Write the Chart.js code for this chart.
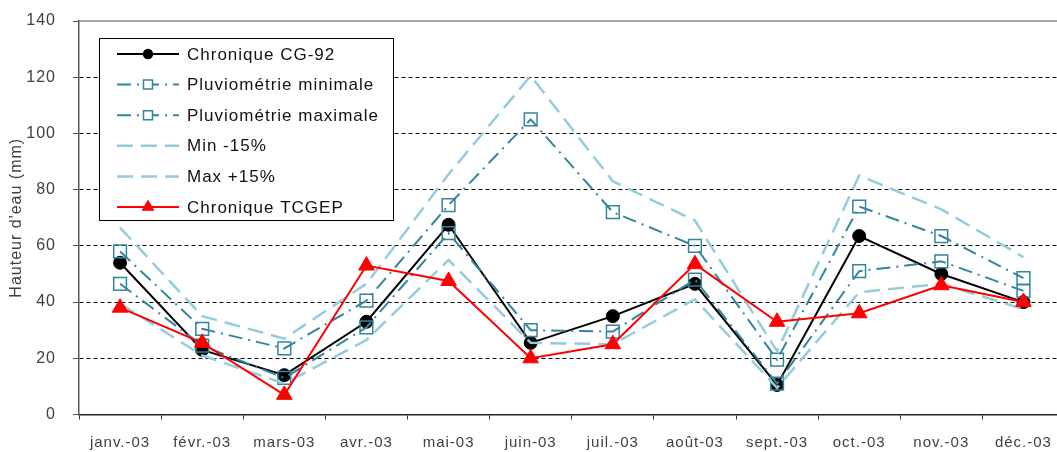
<!DOCTYPE html>
<html lang="fr">
<head>
<meta charset="utf-8">
<title>Hauteur d'eau - 2003</title>
<script src="https://cdn.jsdelivr.net/npm/chart.js@4.4.1/dist/chart.umd.min.js"></script>
<style>
  html, body { margin: 0; padding: 0; background: #fff; overflow: hidden; }
  #wrap { position: absolute; left: 0; top: 0; width: 1075px; height: 452px; }
</style>
</head>
<body>
<div id="wrap"><canvas id="chart" width="1075" height="452"></canvas></div>
<script>
// Data (mm)
const months = ['janv.-03', 'févr.-03', 'mars-03', 'avr.-03', 'mai-03', 'juin-03',
                'juil.-03', 'août-03', 'sept.-03', 'oct.-03', 'nov.-03', 'déc.-03'];
const cg92       = [54, 23, 14, 33, 67.5, 25.5, 35, 46.5, 10.5, 63.5, 50, 40];
const pluvioMin  = [46.5, 24.5, 13, 31, 64.5, 30, 29.5, 48, 11, 51, 54.5, 44];
const pluvioMax  = [58, 30.5, 23.5, 40.5, 74.5, 105, 72, 60, 19.5, 74, 63.5, 48.5];
const minMoins15 = [39.5, 21, 11, 26.5, 55, 25.5, 25, 41, 9.5, 43.5, 46.5, 37.5];
const maxPlus15  = [66.5, 35, 27, 46.5, 85.5, 120.5, 83, 69, 22.5, 85, 73, 56];
const tcgep      = [38, 25.5, 7, 53, 47.5, 20, 25, 53.5, 33, 36, 46, 40];
const yTicks     = [0, 20, 40, 60, 80, 100, 120, 140];

const TEAL = '#31859C';
const LIGHT = '#93CDDD';
const FONT = '"Liberation Sans", Arial, sans-serif';

/**
 * Small marker drawing used by the boxed legend
 */
function drawMarker(ctx, style, x, y, r, color, fill) {
    ctx.save();
    ctx.strokeStyle = color;
    ctx.fillStyle = fill;
    ctx.lineWidth = 1.5;
    ctx.beginPath();
    if (style === 'circle') {
        ctx.arc(x, y, r, 0, Math.PI * 2);
    } else if (style === 'rect') {
        ctx.rect(x - r, y - r, r * 2, r * 2);
    } else if (style === 'triangle') {
        ctx.moveTo(x, y - r);
        ctx.lineTo(x + r * 0.87, y + r * 0.5);
        ctx.lineTo(x - r * 0.87, y + r * 0.5);
        ctx.closePath();
    }
    ctx.fill();
    ctx.stroke();
    ctx.restore();
}

// Letter spacing to mimic the wider original text rendering
const textSpacing = {
    id: 'textSpacing',
    beforeDraw(chart) {
        chart.ctx.letterSpacing = '1px';
    }
};

// Solid grey line on top of the plot area
const topBorder = {
    id: 'topBorder',
    beforeDatasetsDraw(chart) {
        const { ctx, chartArea } = chart;
        ctx.save();
        ctx.strokeStyle = '#8c8c8c';
        ctx.lineWidth = 1.5;
        ctx.beginPath();
        ctx.moveTo(chartArea.left, chartArea.top);
        ctx.lineTo(chartArea.right, chartArea.top);
        ctx.stroke();
        ctx.restore();
    }
};

// Legend drawn inside a box over the plot, like the original
const boxLegend = {
    id: 'boxLegend',
    afterDraw(chart) {
        const ctx = chart.ctx;
        ctx.save();
        ctx.fillStyle = '#fff';
        ctx.fillRect(99.5, 38.5, 294, 182);
        ctx.strokeStyle = '#000';
        ctx.lineWidth = 1;
        ctx.strokeRect(99.5, 38.5, 294, 182);

        chart.data.datasets.forEach((ds, i) => {
            const y = 54 + i * 30.6;
            ctx.save();
            ctx.strokeStyle = ds.borderColor;
            ctx.lineWidth = ds.borderWidth;
            ctx.setLineDash(ds.borderDash || []);
            ctx.beginPath();
            ctx.moveTo(117, y);
            ctx.lineTo(179, y);
            ctx.stroke();
            ctx.restore();

            if (ds.pointRadius > 0) {
                const fill = ds.pointStyle === 'rect' ? '#fff' : ds.pointBackgroundColor;
                drawMarker(ctx, ds.pointStyle, 148, y, ds.legendMarker, ds.pointBorderColor, fill);
            }

            ctx.fillStyle = '#111';
            ctx.font = '17px ' + FONT;
            ctx.textAlign = 'left';
            ctx.textBaseline = 'middle';
            ctx.fillText(ds.label, 187, y + 1);
        });
        ctx.restore();
    }
};

const chart = new Chart(document.getElementById('chart'), {
    type: 'line',
    data: {
        labels: months,
        datasets: [
            {
                label: 'Chronique CG-92',
                data: cg92,
                borderColor: '#000',
                borderWidth: 2,
                pointStyle: 'circle',
                pointRadius: 6.5,
                pointBackgroundColor: '#000',
                pointBorderColor: '#000',
                pointBorderWidth: 1,
                legendMarker: 4.5,
                order: 6
            },
            {
                label: 'Pluviométrie minimale',
                data: pluvioMin,
                borderColor: TEAL,
                borderWidth: 2,
                borderDash: [14, 6, 2, 6],
                pointStyle: 'rect',
                pointRadius: 9,
                pointBackgroundColor: 'rgba(0,0,0,0)',
                pointBorderColor: TEAL,
                pointBorderWidth: 1.5,
                legendMarker: 4.5,
                order: 5
            },
            {
                label: 'Pluviométrie maximale',
                data: pluvioMax,
                borderColor: TEAL,
                borderWidth: 2,
                borderDash: [14, 6, 2, 6],
                pointStyle: 'rect',
                pointRadius: 9,
                pointBackgroundColor: 'rgba(0,0,0,0)',
                pointBorderColor: TEAL,
                pointBorderWidth: 1.5,
                legendMarker: 4.5,
                order: 4
            },
            {
                label: 'Min -15%',
                data: minMoins15,
                borderColor: LIGHT,
                borderWidth: 2.5,
                borderDash: [16, 8],
                pointRadius: 0,
                order: 3
            },
            {
                label: 'Max +15%',
                data: maxPlus15,
                borderColor: LIGHT,
                borderWidth: 2.5,
                borderDash: [16, 8],
                pointRadius: 0,
                order: 2
            },
            {
                label: 'Chronique TCGEP',
                data: tcgep,
                borderColor: '#FF0000',
                borderWidth: 2,
                pointStyle: 'triangle',
                pointRadius: 9,
                pointBackgroundColor: '#FF0000',
                pointBorderColor: '#FF0000',
                pointBorderWidth: 1,
                legendMarker: 6,
                order: 1
            }
        ]
    },
    options: {
        responsive: false,
        animation: false,
        layout: {
            padding: { top: 21, right: 6, left: 0, bottom: 0 }
        },
        elements: {
            line: { tension: 0 }
        },
        scales: {
            x: {
                offset: true,
                afterFit: (scale) => { scale.height = 37.5; },
                grid: {
                    offset: true,
                    drawOnChartArea: false,
                    drawTicks: true,
                    tickLength: 5,
                    tickColor: '#333'
                },
                border: { color: '#262626', width: 1.5 },
                ticks: {
                    autoSkip: false,
                    maxRotation: 0,
                    padding: 14,
                    color: '#404040',
                    font: { family: FONT, size: 15 }
                }
            },
            y: {
                min: 0,
                max: 140,
                afterFit: (scale) => {
                    scale.width = 79;
                    // keep the label padding from pushing the plot area down
                    scale.paddingTop = 8;
                    scale.paddingBottom = 8;
                },
                afterBuildTicks: (scale) => {
                    scale.ticks = yTicks.map(v => ({ value: v }));
                },
                grid: {
                    color: (ctx) => (ctx.tick && (ctx.tick.value === 0 || ctx.tick.value === 140)) ? 'rgba(0,0,0,0)' : '#000',
                    lineWidth: 1,
                    tickLength: 6,
                    tickColor: '#555',
                    tickBorderDash: []
                },
                border: { color: '#595959', width: 1.5, dash: [4, 3] },
                ticks: {
                    padding: 17,
                    color: '#404040',
                    font: { family: FONT, size: 16 }
                },
                title: {
                    display: true,
                    text: "Hauteur d'eau (mm)",
                    color: '#404040',
                    font: { family: FONT, size: 16 },
                    padding: { top: 7, bottom: 0 }
                }
            }
        },
        plugins: {
            legend: { display: false },
            tooltip: { enabled: false }
        }
    },
    plugins: [textSpacing, topBorder, boxLegend]
});
</script>
</body>
</html>
